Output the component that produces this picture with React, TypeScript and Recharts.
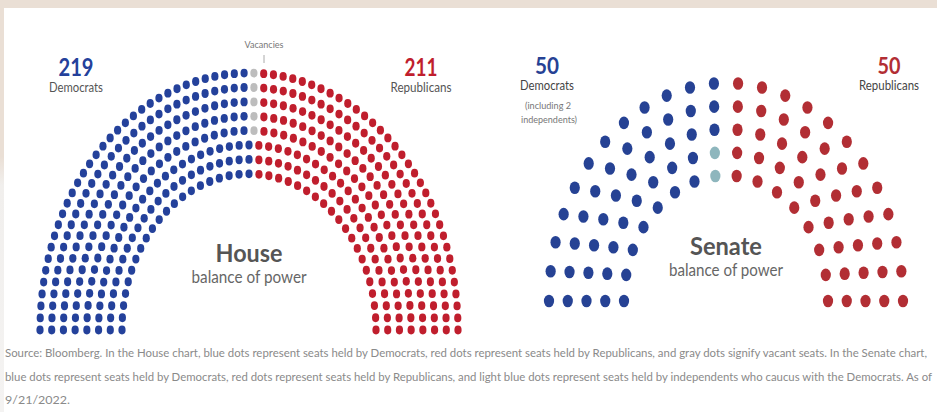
import React from "react";
import { ScatterChart, Scatter, XAxis, YAxis } from "recharts";

// House: 435 seats, rows listed inner -> outer
const houseTotals = { dem: 219, vac: 5, rep: 211 };
const houseRowSeats = [41, 45, 49, 52, 56, 60, 64, 68];
const houseDemByRow = [21, 23, 25, 26, 28, 30, 32, 34];
const houseVacByRow = [0, 0, 0, 1, 1, 1, 1, 1];
const houseRepByRow = [20, 22, 24, 25, 27, 29, 31, 33];

// Senate: 100 seats, rows listed inner -> outer
const senateTotals = { dem: 50, rep: 50 };
const senateRowSeats = [16, 18, 20, 22, 24];
const senateDemByRow = [7, 8, 10, 11, 12];
const senateIndByRow = [1, 1, 0, 0, 0];
const senateRepByRow = [8, 9, 10, 11, 12];

const captionLines = [
  "Source: Bloomberg. In the House chart, blue dots represent seats held by Democrats, red dots represent seats held by Republicans, and gray dots signify vacant seats. In the Senate chart,",
  "blue dots represent seats held by Democrats, red dots represent seats held by Republicans, and light blue dots represent seats held by independents who caucus with the Democrats. As of",
  "9/21/2022.",
];

const FONT = "Lato, 'Open Sans', sans-serif";

type Seat = { x: number; y: number; group: number };

// lay rows out as concentric half rings, each row split left->right by group counts
function layoutSeats(rowSeats: number[], groupsByRow: number[][], innerRatio: number): Seat[] {
  const seats: Seat[] = [];
  const rows = rowSeats.length;
  rowSeats.forEach((n, i) => {
    const r = innerRatio + ((1 - innerRatio) * i) / (rows - 1);
    let g = 0;
    let used = 0;
    for (let j = 0; j < n; j++) {
      while (g < groupsByRow.length - 1 && j >= used + groupsByRow[g][i]) {
        used += groupsByRow[g][i];
        g++;
      }
      const t = Math.PI * (1 - j / (n - 1));
      seats.push({ x: r * Math.cos(t), y: r * Math.sin(t), group: g });
    }
  });
  return seats;
}

interface ArcProps {
  seats: Seat[];
  colors: string[];
  width: number;
  height: number;
  cx: number;
  cy: number;
  sx: number;
  sy: number;
  rx: number;
  ry: number;
  left: number;
}

function SeatArc({ seats, colors, width, height, cx, cy, sx, sy, rx, ry, left }: ArcProps) {
  const xDomain = [-cx / sx, (width - cx) / sx];
  const yDomain = [(cy - height) / sy, cy / sy];
  return (
    <div style={{ position: "absolute", left, top: 0 }}>
      <ScatterChart width={width} height={height} margin={{ top: 0, right: 0, bottom: 0, left: 0 }}>
        <XAxis type="number" dataKey="x" domain={xDomain} allowDataOverflow hide />
        <YAxis type="number" dataKey="y" domain={yDomain} allowDataOverflow hide width={0} />
        {colors.map((c, gi) => (
          <Scatter
            key={gi}
            data={seats.filter((s) => s.group === gi)}
            isAnimationActive={false}
            shape={(p: any) => <ellipse cx={p.cx} cy={p.cy} rx={rx} ry={ry} fill={c} />}
          />
        ))}
      </ScatterChart>
    </div>
  );
}

function Label(props: { x: number; y: number; w: number; size: number; color: string; bold?: boolean; children: React.ReactNode; anchor?: string }) {
  return (
    <text
      x={props.x}
      y={props.y}
      textAnchor={props.anchor ?? "middle"}
      textLength={props.w}
      lengthAdjust="spacingAndGlyphs"
      fontSize={props.size}
      fontWeight={props.bold ? 700 : 400}
      fill={props.color}
      fontFamily={FONT}
    >
      {props.children}
    </text>
  );
}

export default function App() {
  const houseSeats = layoutSeats(houseRowSeats, [houseDemByRow, houseVacByRow, houseRepByRow], 127 / 209);
  const senateSeats = layoutSeats(senateRowSeats, [senateDemByRow, senateIndByRow, senateRepByRow], 102 / 177);

  return (
    <div style={{ position: "relative", width: 937, height: 412, background: "#fff", overflow: "hidden", fontFamily: FONT }}>
      <style>{"body{margin:0;}"}</style>
      <div style={{ position: "absolute", left: 0, top: 0, width: 937, height: 8, background: "#eadfd5" }} />
      <div
        style={{
          position: "absolute",
          left: 0,
          top: 0,
          width: 4,
          height: 412,
          background: "linear-gradient(#eadfd5 0%, #eadfd5 38%, #f1efed 45%, #f4f3f2 100%)",
        }}
      />

      <SeatArc
        seats={houseSeats}
        colors={["#24419b", "#bdbdbd", "#c01e2d"]}
        left={0}
        width={480}
        height={345}
        cx={249}
        cy={330}
        sx={209}
        sy={257}
        rx={3.6}
        ry={4.4}
      />
      <SeatArc
        seats={senateSeats}
        colors={["#264294", "#8eb6bd", "#b22e34"]}
        left={480}
        width={457}
        height={330}
        cx={246}
        cy={301}
        sx={177}
        sy={218}
        rx={5.1}
        ry={6.3}
      />

      <svg width={937} height={412} style={{ position: "absolute", left: 0, top: 0, pointerEvents: "none" }}>
        {/* House labels */}
        <Label x={76} y={76} w={35} size={25} color="#24419b" bold>{houseTotals.dem}</Label>
        <Label x={76} y={92} w={54} size={13} color="#555">Democrats</Label>
        <Label x={421} y={76} w={33} size={25} color="#c01e2d" bold>{houseTotals.rep}</Label>
        <Label x={421} y={92} w={61} size={13} color="#555">Republicans</Label>
        <Label x={264} y={48} w={39} size={9.5} color="#777">Vacancies</Label>
        <line x1={264} y1={55} x2={264} y2={63} stroke="#aaa" strokeWidth={1} />
        <Label x={249} y={262} w={67} size={25} color="#555" bold>House</Label>
        <Label x={249} y={283} w={115} size={17} color="#666">balance of power</Label>

        {/* Senate labels */}
        <Label x={547} y={74} w={24} size={22} color="#264294" bold>{senateTotals.dem}</Label>
        <Label x={547} y={90} w={54} size={13} color="#444">Democrats</Label>
        <Label x={548} y={109} w={46} size={9.5} color="#777">(including 2</Label>
        <Label x={549} y={123} w={56} size={9.5} color="#777">independents)</Label>
        <Label x={889} y={74} w={23} size={22} color="#b22e34" bold>{senateTotals.rep}</Label>
        <Label x={889} y={90} w={60} size={13} color="#444">Republicans</Label>
        <Label x={726} y={255} w={72} size={25} color="#555" bold>Senate</Label>
        <Label x={726} y={276} w={114} size={17} color="#666">balance of power</Label>

        {/* caption */}
        <Label x={5} y={357} w={922} size={12} color="#8a8a8a" anchor="start">{captionLines[0]}</Label>
        <Label x={5} y={381} w={927} size={12} color="#8a8a8a" anchor="start">{captionLines[1]}</Label>
        <Label x={5} y={404} w={65} size={12} color="#8a8a8a" anchor="start">{captionLines[2]}</Label>
      </svg>
    </div>
  );
}
